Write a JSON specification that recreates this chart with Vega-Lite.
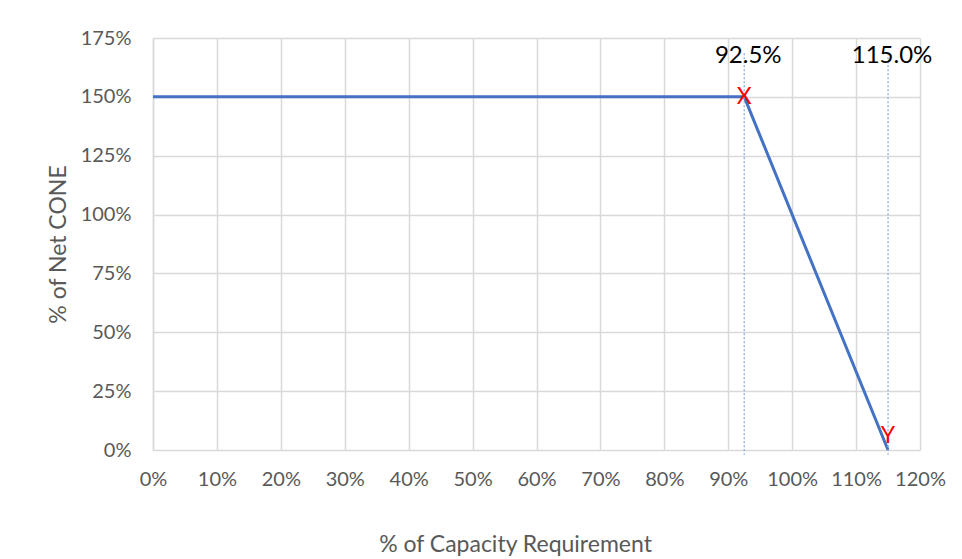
{
  "$schema": "https://vega.github.io/schema/vega-lite/v6.json",
  "width": 767,
  "height": 412,
  "autosize": "none",
  "padding": {"left": 153, "top": 38, "right": 42, "bottom": 109},
  "background": "white",
  "config": {
    "view": {"stroke": null},
    "font": "Lato",
    "axis": {
      "labelFont": "Lato", "titleFont": "Lato",
      "labelColor": "#595959", "titleColor": "#595959",
      "labelFontSize": 20, "titleFontSize": 23, "titleFontWeight": "normal",
      "gridColor": "#D9D9D9", "gridWidth": 1.5,
      "domainColor": "#D9D9D9", "domainWidth": 1.5,
      "ticks": false, "labelOverlap": false, "labelFlush": false
    }
  },
  "datasets": {
    "curve": [
      {"cap": 0, "cone": 150},
      {"cap": 92.5, "cone": 150},
      {"cap": 115, "cone": 0}
    ],
    "refs": [
      {"cap": 92.5, "top": 168.5, "bottom": -2, "label": "92.5%", "labely": 167.3},
      {"cap": 115, "top": 168.5, "bottom": -2, "label": "115.0%", "labely": 167.3}
    ],
    "points": [
      {"cap": 92.5, "cone": 150, "name": "X"},
      {"cap": 115, "cone": 5.8, "name": "Y"}
    ]
  },
  "layer": [
    {
      "data": {"name": "curve"},
      "mark": {"type": "line", "color": "#4472C4", "strokeWidth": 3, "clip": false},
      "encoding": {
        "x": {
          "field": "cap", "type": "quantitative",
          "scale": {"domain": [0, 120], "nice": false},
          "axis": {"values": [0,10,20,30,40,50,60,70,80,90,100,110,120], "labelExpr": "datum.value + '%'", "labelPadding": 19, "title": "% of Capacity Requirement", "titlePadding": 44, "titleX": 362, "titleAlign": "center", "domain": false}
        },
        "y": {
          "field": "cone", "type": "quantitative",
          "scale": {"domain": [0, 175], "nice": false},
          "axis": {"values": [0,25,50,75,100,125,150,175], "labelExpr": "datum.value + '%'", "labelPadding": 22, "title": "% of Net CONE", "titlePadding": 10}
        }
      }
    },
    {
      "data": {"name": "refs"},
      "mark": {"type": "rule", "color": "#8FAADC", "strokeWidth": 1.3, "strokeDash": [2, 2], "clip": false},
      "encoding": {
        "x": {"field": "cap", "type": "quantitative"},
        "y": {"field": "top", "type": "quantitative"},
        "y2": {"field": "bottom"}
      }
    },
    {
      "data": {"name": "refs"},
      "mark": {"type": "text", "font": "Lato", "fontSize": 24, "color": "#000000", "baseline": "middle", "align": "center", "dx": 4},
      "encoding": {
        "x": {"field": "cap", "type": "quantitative"},
        "y": {"field": "labely", "type": "quantitative"},
        "text": {"field": "label"}
      }
    },
    {
      "data": {"name": "points"},
      "mark": {"type": "text", "font": "Lato", "fontSize": 23, "color": "#FF0000", "baseline": "middle", "align": "center"},
      "encoding": {
        "x": {"field": "cap", "type": "quantitative"},
        "y": {"field": "cone", "type": "quantitative"},
        "text": {"field": "name"}
      }
    }
  ]
}
